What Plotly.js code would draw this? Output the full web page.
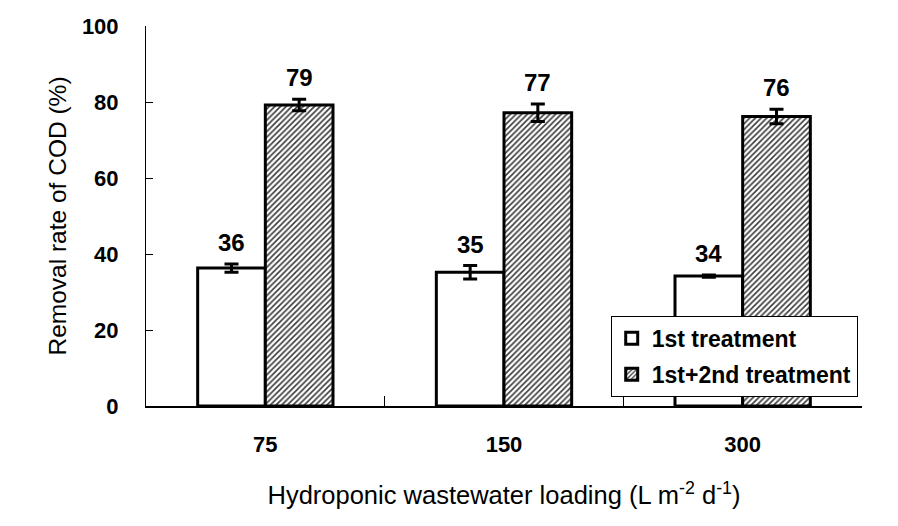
<!DOCTYPE html>
<html>
<head>
<meta charset="utf-8">
<script src="https://cdn.plot.ly/plotly-3.0.1.min.js"></script>
<style>html,body{margin:0;padding:0;background:#fff;}#chart{width:898px;height:526px;}</style>
</head>
<body>
<div id="chart"></div>
<script>
// Data
var categories = ["75", "150", "300"];
var seriesNames = ["1st treatment", "1st+2nd treatment"];
var first = [36.3, 35.2, 34.2];
var firstErr = [1.1, 1.75, 0.3];
var firstLabels = ["36", "35", "34"];
var second = [79.2, 77.2, 76.2];
var secondErr = [1.5, 2.3, 1.9];
var secondLabels = ["79", "77", "76"];
var yTicks = [0, 20, 40, 60, 80, 100];

var FONT = "Liberation Sans, Arial, sans-serif";
var bargap = 0.433;
var half = (1 - bargap) / 4; // offset of each bar centre from the category centre

var traces = [
  {
    type: "bar", name: seriesNames[0], x: categories, y: first,
    legendgroup: "a",
    marker: {color: "#ffffff", line: {color: "#000000", width: 3}},
    error_y: {type: "data", array: firstErr, visible: true, color: "#000000", thickness: 3, width: 7}
  },
  {
    type: "bar", name: seriesNames[1], x: categories, y: second,
    legendgroup: "b",
    marker: {color: "#ffffff", line: {color: "#000000", width: 3},
      pattern: {shape: "/", size: 4, solidity: 0.4, fgcolor: "#3a3a3a", bgcolor: "#ffffff"}},
    error_y: {type: "data", array: secondErr, visible: true, color: "#000000", thickness: 3, width: 7}
  }
];

var annotations = [];
categories.forEach(function (c, i) {
  annotations.push({x: i - half, y: first[i] + firstErr[i], xref: "x", yref: "y", text: firstLabels[i],
    showarrow: false, yanchor: "bottom", yshift: 6, font: {family: FONT, size: 24, color: "#000", weight: "bold"}});
  annotations.push({x: i + half, y: second[i] + secondErr[i], xref: "x", yref: "y", text: secondLabels[i],
    showarrow: false, yanchor: "bottom", yshift: 6, font: {family: FONT, size: 24, color: "#000", weight: "bold"}});
});

var layout = {
  width: 898, height: 526,
  margin: {l: 146, r: 36, t: 26, b: 120},
  paper_bgcolor: "#ffffff", plot_bgcolor: "#ffffff",
  barmode: "group", bargap: bargap, bargroupgap: 0,
  font: {family: FONT, color: "#000000"},
  showlegend: true,
  legend: {
    x: 0.994, xanchor: "right", y: 0.024, yanchor: "bottom",
    bgcolor: "#ffffff", bordercolor: "#000000", borderwidth: 1,
    font: {family: FONT, size: 23, color: "#000", weight: "bold"},
    traceorder: "grouped", tracegroupgap: 3, itemwidth: 30
  },
  xaxis: {
    type: "category", showline: true, linecolor: "#000", linewidth: 2,
    ticks: "inside", tickson: "boundaries", ticklen: 10, tickcolor: "#000", tickwidth: 1,
    showgrid: false, zeroline: false, automargin: false,
    tickfont: {family: FONT, size: 22, color: "#000", weight: "bold"},
    ticklabelstandoff: 18,
    title: {text: "Hydroponic wastewater loading (L m<sup>-2</sup> d<sup>-1</sup>)",
      font: {family: FONT, size: 25.5, color: "#000"}, standoff: 30}
  },
  yaxis: {
    range: [0, 100], tickvals: yTicks, showline: true, linecolor: "#000", linewidth: 1,
    ticks: "inside", ticklen: 7, tickcolor: "#000", tickwidth: 1,
    showgrid: false, zeroline: false, automargin: false,
    tickfont: {family: FONT, size: 22, color: "#000", weight: "bold"},
    ticklabelstandoff: 22,
    title: {text: "Removal rate of COD (%)", font: {family: FONT, size: 24.5, color: "#000"}, standoff: 8}
  },
  annotations: annotations
};

Plotly.newPlot("chart", traces, layout, {displayModeBar: false, staticPlot: true});
</script>
</body>
</html>
